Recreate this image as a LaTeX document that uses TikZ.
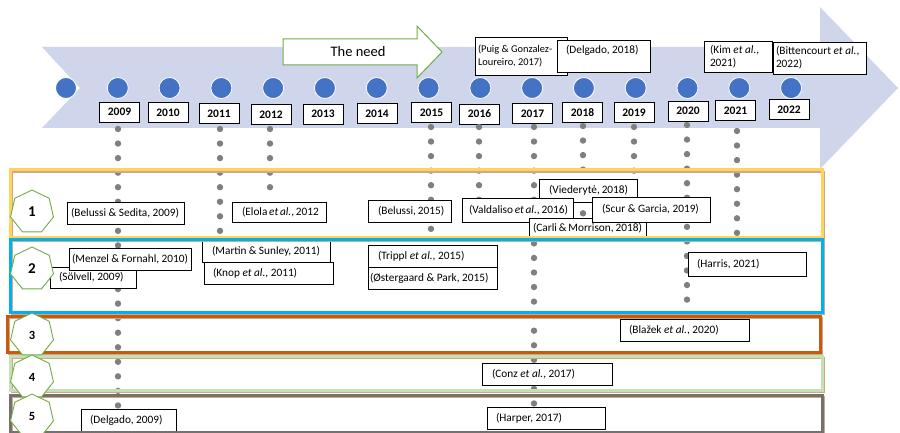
\documentclass[tikz,border=0pt]{standalone}
\usepackage{fontspec}
\setmainfont{Carlito}
\usetikzlibrary{shapes.geometric}

\definecolor{timeline}{HTML}{CFD5EA}
\definecolor{yearblue}{HTML}{4472C4}
\definecolor{dotgray}{HTML}{7F7F7F}
\definecolor{needgreen}{HTML}{70AD47}
\definecolor{bandyellow}{HTML}{FFD35C}
\definecolor{bandblue}{HTML}{00B0F0}
\definecolor{bandorange}{HTML}{C55A11}
\definecolor{bandgreen}{HTML}{C5E0B4}
\definecolor{bandgray}{HTML}{767171}
\definecolor{bandshade}{HTML}{CDA988}

\newcommand\citefont{\fontsize{11.3}{13}\selectfont}

\tikzset{
    yearcircle/.style={circle, fill=yearblue, draw=white, line width=0.8pt, minimum size=21pt, inner sep=0pt},
    yearbox/.style={draw, fill=white, line width=0.9pt, minimum width=40pt, minimum height=20pt, inner sep=0pt, font=\fontsize{11.5}{13}\selectfont\bfseries},
    citebox/.style n args={3}{draw, fill=white, line width=0.8pt, inner xsep=#3, inner ysep=0pt, minimum height=#2, font=\citefont,
        execute at begin node={\hbox to \dimexpr#1-#3-#3\relax\bgroup}, execute at end node={\hfil\egroup}},
    twoline/.style n args={3}{draw, fill=white, line width=0.8pt, align=flush left, text width=#1, minimum height=#2, inner xsep=#3, inner ysep=0pt, font=\citefont},
    band/.style={draw=#1, line width=3pt},
    bandshadow/.style={draw=bandshade, line width=2pt},
    cluster/.style={regular polygon, regular polygon sides=7, minimum size=44pt, inner sep=0pt, draw=needgreen, fill=white, line width=0.9pt},
    needarrow/.style={draw=needgreen, fill=white, line width=1pt},
}

\begin{document}
\begin{tikzpicture}[x=1pt, y=-1pt]
    \useasboundingbox (0,0) rectangle (900,433);

    \fill[timeline] (42,47) -- (820,47) -- (820,7) -- (898,88) -- (820,169) -- (820,128) -- (42,128) -- (80,88) -- cycle;

    \draw[needarrow] (283,39) -- (417,39) -- (417,26) -- (442,52) -- (417,78) -- (417,65) -- (283,65) -- cycle;
    \node[font=\fontsize{14.5}{16}\selectfont] (need) at (358,52) {The need};

    \foreach \i in {0,...,14}
        \node[yearcircle] (c\i) at ({66+51.79*\i},88) {};

    \foreach \yr/\x/\y in {2009/119.5/112, 2010/168/112.5, 2011/219/113.5, 2012/271/114.5, 2013/323/114, 2014/377/113.5, 2015/431.5/112.5,
                           2016/479.5/114, 2017/532.5/113.5, 2018/582.5/112.5, 2019/634/112.5, 2020/688/111, 2021/735.5/110.5, 2022/789/109.5}
        \node[yearbox] (y\yr) at (\x,\y) {\yr};

    \node[twoline={86pt}{38pt}{3pt}, font=\fontsize{10.4}{13}\selectfont] (puig) at (521,56) {(Puig \& Gonzalez-\\Loureiro, 2017)};
    \node[citebox={93pt}{32pt}{9pt}, text height=8pt, text depth=12pt] (delgado18) at (603.5,56) {(Delgado, 2018)};
    \node[twoline={56pt}{31pt}{6pt}] (kim) at (738,56.5) {(Kim \textit{et al.},\\2021)};
    \node[twoline={87pt}{32pt}{3pt}] (bittencourt) at (819.5,58) {(Bittencourt \textit{et al.},\\2022)};

    \foreach \x/\a/\n in {118/129/19, 220/129/7, 270/129/4, 431/127/7, 479/127/5, 534/127/19, 583/126/7, 634/127/6, 687/125/13, 737/131/7}
        \foreach \k in {0,...,\n}
            \fill[dotgray] (\x,{\a+14.55*\k}) circle (3.2pt);

    \node[citebox={117pt}{22pt}{4pt}] (belussised) at (125.5,213) {(Belussi \& Sedita, 2009)};
    \node[citebox={94pt}{20pt}{10pt}] (elola) at (279,212) {(Elola \textit{et al.}, 2012};
    \node[citebox={83pt}{22pt}{10pt}] (belussi) at (409.5,211) {(Belussi, 2015)};
    \node[citebox={98pt}{23pt}{10pt}] (viederyte) at (588,190.5) {(Viederytė, 2018)};
    \node[citebox={111pt}{24pt}{7pt}] (valdaliso) at (517.5,210) {(Valdaliso \textit{et al.}, 2016)};
    \node[citebox={117pt}{20pt}{4pt}] (carli) at (587.5,228) {(Carli \& Morrison, 2018)};
    \node[citebox={118pt}{25pt}{10pt}] (scur) at (651,209.5) {(Scur \& Garcia, 2019)};

    \node[citebox={86pt}{21pt}{9pt}] (solvell) at (93,277.5) {(Sölvell, 2009)};
    \node[citebox={122pt}{22pt}{3pt}] (menzel) at (130,259) {(Menzel \& Fornahl, 2010)};
    \node[citebox={128pt}{22pt}{10pt}] (martin) at (266,251) {(Martin \& Sunley, 2011)};
    \node[citebox={129pt}{22pt}{9pt}] (knop) at (268.5,273) {(Knop \textit{et al.}, 2011)};
    \node[citebox={129pt}{22pt}{10pt}] (trippl) at (432.5,256) {(Trippl \textit{et al.}, 2015)};
    \node[citebox={129pt}{22pt}{2pt}] (ostergaard) at (432.5,278) {(Østergaard \& Park, 2015)};
    \node[citebox={118pt}{24pt}{9pt}] (harris) at (747,264) {(Harris, 2021)};

    \node[citebox={129pt}{22pt}{9pt}] (blazek) at (684.5,330) {(Blažek \textit{et al.}, 2020)};
    \node[citebox={130pt}{22pt}{10pt}] (conz) at (547,374) {(Conz \textit{et al.}, 2017)};
    \node[citebox={95pt}{23pt}{9pt}] (delgado09) at (128.5,420.5) {(Delgado, 2009)};
    \node[citebox={118pt}{22pt}{9pt}] (harper) at (546,418) {(Harper, 2017)};

    \foreach \col/\xa/\ya/\xb/\yb in {bandyellow/10/170/822/237, bandblue/10/239/822/312, bandorange/7/316/820/352,
                                      bandgreen/10/356/822/390, bandgray/10/395/822/432} {
        \draw[bandshadow] ({\xa+1.5},{\ya+2}) rectangle ({\xb+1.5},{\yb+2});
        \draw[band=\col] (\xa,\ya) rectangle (\xb,\yb);
    }

    \foreach \n/\y/\s in {1/212/15, 2/269/15, 3/335/12.5, 4/377/12.5, 5/416/12.5}
        \node[cluster, font=\fontsize{\s}{\s}\selectfont\bfseries] (k\n) at (32,\y) {\n};
\end{tikzpicture}
\end{document}
